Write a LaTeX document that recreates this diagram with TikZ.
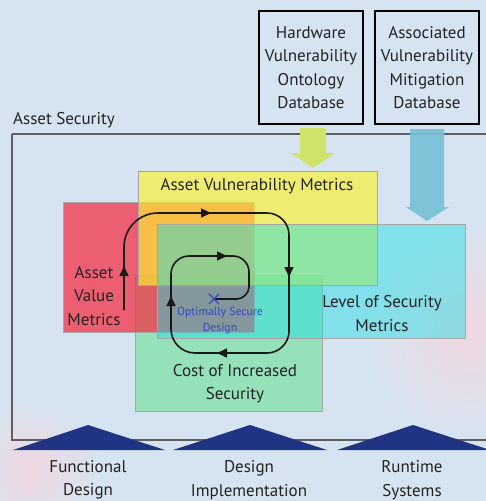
\documentclass[tikz,border=0pt]{standalone}
\usepackage{fontspec}
\setmainfont{PT Sans}
\usetikzlibrary{arrows.meta}
\definecolor{bgc}{RGB}{214,228,241}
\definecolor{txtc}{RGB}{35,35,35}
\definecolor{redc}{RGB}{245,45,65}
\definecolor{yelc}{RGB}{253,243,45}
\definecolor{cyac}{RGB}{27,221,228}
\definecolor{grec}{RGB}{107,223,148}
\definecolor{navyc}{RGB}{33,52,132}
\definecolor{optc}{RGB}{55,70,190}
\definecolor{framec}{RGB}{95,95,95}
\definecolor{yarr}{RGB}{205,228,105}
\definecolor{barr}{RGB}{118,192,214}
\definecolor{pinkc}{RGB}{240,215,225}
\tikzset{
  dbbox/.style={draw=black, line width=2.6pt, minimum width=104pt, minimum height=113pt,
    align=center, inner sep=0pt, font=\fontsize{17}{23.5}\selectfont, text=txtc},
  metric/.style={draw=black!35, line width=0.6pt, inner sep=0pt},
  lbl/.style={align=center, inner sep=0pt, font=\fontsize{17}{23.5}\selectfont, text=txtc},
  spiral/.style={line width=1.6pt, black!90},
  tipmark/.style={-{Triangle[length=10pt,width=9pt]}, line width=1.6pt, black!90},
}
\begin{document}
\begin{tikzpicture}[x=1pt,y=-1pt]
\useasboundingbox (0,0) rectangle (486,501);
\fill[bgc] (0,0) rectangle (486,501);
\shade[inner color=pinkc, outer color=bgc] (470,330) circle (110);
\shade[inner color=pinkc, outer color=bgc] (30,470) circle (70);

% databases
\node[dbbox] (hw) at (311,67.5) {Hardware\\Vulnerability\\Ontology\\Database};
\node[dbbox] (av) at (427,67.5) {Associated\\Vulnerability\\Mitigation\\Database};

% frame
\node[anchor=base west, lbl, inner sep=0pt] (as) at (13,124) {Asset Security};
\draw[framec, line width=1.2pt] (12,134) -- (495,134) (12,134) -- (12,440) -- (495,440);

% fat arrows
\fill[yarr] (300,128) -- (326,128) -- (326,153) -- (335,153) -- (313,168) -- (291,153) -- (300,153) -- cycle;
\fill[barr, fill opacity=0.9] (410,129) -- (444,129) -- (444,207) -- (449,207) -- (427,221) -- (406,207) -- (410,207) -- cycle;

% metric rectangles
\node[metric, fill=grec, fill opacity=0.6, minimum width=187pt, minimum height=136pt] (rg) at (228.5,343) {};
\node[metric, fill=redc, fill opacity=0.72, minimum width=191pt, minimum height=130pt] (rv) at (158.5,267) {};
\node[metric, fill=yelc, fill opacity=0.65, minimum width=239pt, minimum height=114pt] (ry) at (257.5,228) {};
\node[metric, fill=cyac, fill opacity=0.45, minimum width=308pt, minimum height=114pt] (rc) at (311,281) {};

% spiral
\draw[spiral] (124,310) -- (124,247)
  .. controls (124,228.2) and (139.2,213) .. (158,213) -- (267,213)
  .. controls (279.1,213) and (289,222.9) .. (289,235) -- (289,331)
  .. controls (289,343.1) and (279.1,353) .. (267,353) -- (195,353)
  .. controls (181.8,353) and (171,342.2) .. (171,329) -- (171,274)
  .. controls (171,264.1) and (179.1,256) .. (189,256) -- (233,256)
  .. controls (241.8,256) and (249,263.2) .. (249,272) -- (249,287)
  .. controls (249,293.6) and (242.4,299) .. (237,299) -- (214,299);
\draw[tipmark] (124,278) -- (124,266);
\draw[tipmark] (199,213) -- (211,213);
\draw[tipmark] (289,265) -- (289,277);
\draw[tipmark] (229,353) -- (217,353);
\draw[tipmark] (171,308) -- (171,296);
\draw[tipmark] (215,256) -- (227,256);

% optimum
\draw[optc, line width=1.4pt] (209,294) -- (219,304) (209,304) -- (219,294);
\node[align=center, inner sep=0pt, text=optc, font=\fontsize{11.7}{15.5}\selectfont] (opt) at (220,320.5) {Optimally Secure\\Design};

% labels
\node[lbl] (avmT) at (257,186) {Asset Vulnerability Metrics};
\node[lbl] (valT) at (94,296) {Asset\\Value\\Metrics};
\node[lbl] (losT) at (382,313.5) {Level of Security\\Metrics};
\node[lbl] (costT) at (235,383.5) {Cost of Increased\\Security};

% phases
\fill[navyc] (13,450) -- (88,425) -- (165,450) -- cycle;
\fill[navyc] (173,450) -- (250,425) -- (327,450) -- cycle;
\fill[navyc] (337,450) -- (413,425) -- (490,450) -- cycle;
\node[lbl] (fd) at (88,480) {Functional\\Design};
\node[lbl] (di) at (249,480) {Design\\Implementation};
\node[lbl] (rs) at (412,480) {Runtime\\Systems};
\end{tikzpicture}
\end{document}
